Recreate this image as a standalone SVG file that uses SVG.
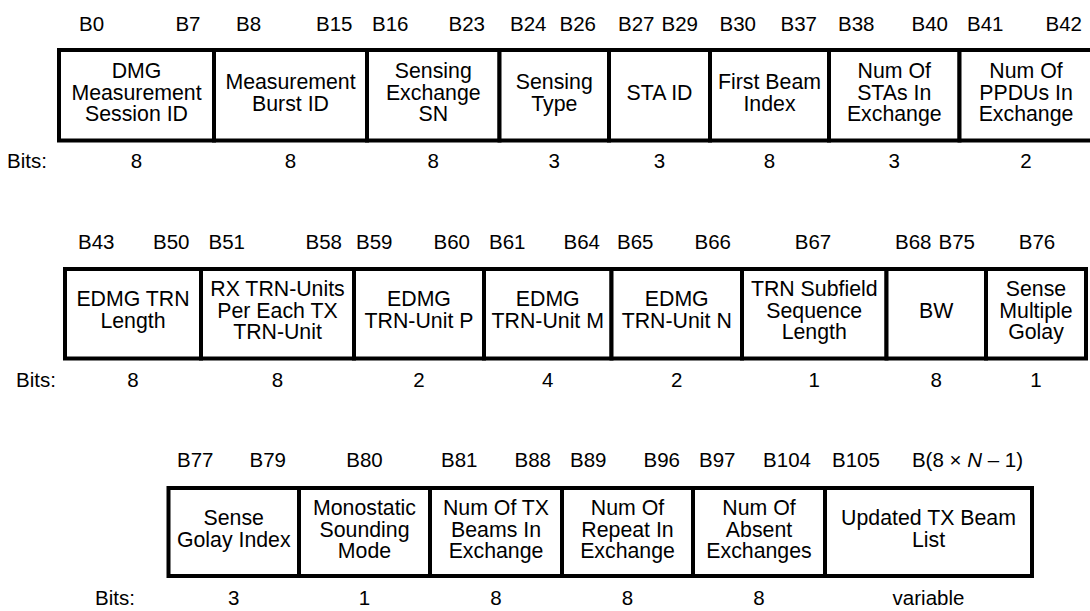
<svg xmlns="http://www.w3.org/2000/svg" width="1090" height="611" viewBox="0 0 1090 611">
<style>
text{font-family:"Liberation Sans",Arial,sans-serif;fill:#000}
.c{fill:#fff;stroke:#000;stroke-width:4}
.t{font-size:21.3px;text-anchor:middle}
.l{font-size:20.5px}
.m{text-anchor:middle}
.e{text-anchor:end}
.b{font-size:20.5px;text-anchor:middle}
</style>
<rect width="1090" height="611" fill="#fff"/>
<g id="connectors"/>
<!-- Row 1 -->
<g id="row1-labels" class="l">
<text x="79" y="30.5">B0</text><text x="200.5" y="30.5" class="e">B7</text>
<text x="236" y="30.5">B8</text><text x="352.5" y="30.5" class="e">B15</text>
<text x="372" y="30.5">B16</text><text x="485" y="30.5" class="e">B23</text>
<text x="510" y="30.5">B24</text><text x="596" y="30.5" class="e">B26</text>
<text x="618" y="30.5">B27</text><text x="698" y="30.5" class="e">B29</text>
<text x="719.5" y="30.5">B30</text><text x="817" y="30.5" class="e">B37</text>
<text x="838" y="30.5">B38</text><text x="948" y="30.5" class="e">B40</text>
<text x="967" y="30.5">B41</text><text x="1082" y="30.5" class="e">B42</text>
</g>
<g id="f-dmg-session"><rect class="c" x="59" y="50" width="155" height="90.5"/><text class="t" x="136.5" y="78">DMG</text><text class="t" x="136.5" y="99.5">Measurement</text><text class="t" x="136.5" y="121">Session ID</text></g>
<g id="f-burst-id"><rect class="c" x="214" y="50" width="153" height="90.5"/><text class="t" x="290.5" y="89">Measurement</text><text class="t" x="290.5" y="110.5">Burst ID</text></g>
<g id="f-exch-sn"><rect class="c" x="367" y="50" width="132.5" height="90.5"/><text class="t" x="433.25" y="78">Sensing</text><text class="t" x="433.25" y="99.5">Exchange</text><text class="t" x="433.25" y="121">SN</text></g>
<g id="f-sensing-type"><rect class="c" x="499.5" y="50" width="109.5" height="90.5"/><text class="t" x="554.25" y="89">Sensing</text><text class="t" x="554.25" y="110.5">Type</text></g>
<g id="f-sta-id"><rect class="c" x="609" y="50" width="101" height="90.5"/><text class="t" x="659.5" y="99.5">STA ID</text></g>
<g id="f-first-beam"><rect class="c" x="710" y="50" width="119" height="90.5"/><text class="t" x="769.5" y="89">First Beam</text><text class="t" x="769.5" y="110.5">Index</text></g>
<g id="f-num-stas"><rect class="c" x="829" y="50" width="130.5" height="90.5"/><text class="t" x="894.25" y="78">Num Of</text><text class="t" x="894.25" y="99.5">STAs In</text><text class="t" x="894.25" y="121">Exchange</text></g>
<g id="f-num-ppdus"><rect class="c" x="959.5" y="50" width="134.5" height="90.5"/><text class="t" x="1026" y="78">Num Of</text><text class="t" x="1026" y="99.5">PPDUs In</text><text class="t" x="1026" y="121">Exchange</text></g>
<g id="row1-bits" class="b">
<text x="7" y="168" style="text-anchor:start">Bits:</text>
<text x="136.5" y="168">8</text><text x="290.5" y="168">8</text><text x="433.25" y="168">8</text><text x="554.25" y="168">3</text><text x="659.5" y="168">3</text><text x="769.5" y="168">8</text><text x="894.25" y="168">3</text><text x="1026" y="168">2</text>
</g>
<!-- Row 2 -->
<g id="row2-labels" class="l">
<text x="78" y="248.5">B43</text><text x="189.5" y="248.5" class="e">B50</text>
<text x="208.5" y="248.5">B51</text><text x="342" y="248.5" class="e">B58</text>
<text x="356" y="248.5">B59</text><text x="470" y="248.5" class="e">B60</text>
<text x="489" y="248.5">B61</text><text x="600" y="248.5" class="e">B64</text>
<text x="617" y="248.5">B65</text><text x="731" y="248.5" class="e">B66</text>
<text x="813" y="248.5" class="m">B67</text>
<text x="895" y="248.5">B68</text><text x="975" y="248.5" class="e">B75</text>
<text x="1037" y="248.5" class="m">B76</text>
</g>
<g id="f-trn-length"><rect class="c" x="65" y="269" width="136" height="89.5"/><text class="t" x="133" y="306">EDMG TRN</text><text class="t" x="133" y="327.5">Length</text></g>
<g id="f-rx-trn-units"><rect class="c" x="201" y="269" width="153" height="89.5"/><text class="t" x="277.5" y="296">RX TRN-Units</text><text class="t" x="277.5" y="317.5">Per Each TX</text><text class="t" x="277.5" y="339">TRN-Unit</text></g>
<g id="f-trn-unit-p"><rect class="c" x="354" y="269" width="130" height="89.5"/><text class="t" x="419" y="306">EDMG</text><text class="t" x="419" y="327.5">TRN-Unit P</text></g>
<g id="f-trn-unit-m"><rect class="c" x="484" y="269" width="127.5" height="89.5"/><text class="t" x="547.75" y="306">EDMG</text><text class="t" x="547.75" y="327.5">TRN-Unit M</text></g>
<g id="f-trn-unit-n"><rect class="c" x="611.5" y="269" width="130.5" height="89.5"/><text class="t" x="676.75" y="306">EDMG</text><text class="t" x="676.75" y="327.5">TRN-Unit N</text></g>
<g id="f-trn-subfield"><rect class="c" x="742" y="269" width="144.5" height="89.5"/><text class="t" x="814.25" y="296">TRN Subfield</text><text class="t" x="814.25" y="317.5">Sequence</text><text class="t" x="814.25" y="339">Length</text></g>
<g id="f-bw"><rect class="c" x="886.5" y="269" width="99.5" height="89.5"/><text class="t" x="936.25" y="317.5">BW</text></g>
<g id="f-sense-multiple"><rect class="c" x="986" y="269" width="100" height="89.5"/><text class="t" x="1036" y="296">Sense</text><text class="t" x="1036" y="317.5">Multiple</text><text class="t" x="1036" y="339">Golay</text></g>
<g id="row2-bits" class="b">
<text x="16" y="387" style="text-anchor:start">Bits:</text>
<text x="133" y="387">8</text><text x="277.5" y="387">8</text><text x="419" y="387">2</text><text x="547.75" y="387">4</text><text x="676.75" y="387">2</text><text x="814.25" y="387">1</text><text x="936.25" y="387">8</text><text x="1036" y="387">1</text>
</g>
<!-- Row 3 -->
<g id="row3-labels" class="l">
<text x="177" y="467">B77</text><text x="286" y="467" class="e">B79</text>
<text x="364.5" y="467" class="m">B80</text>
<text x="441" y="467">B81</text><text x="551" y="467" class="e">B88</text>
<text x="570" y="467">B89</text><text x="680" y="467" class="e">B96</text>
<text x="699" y="467">B97</text><text x="811" y="467" class="e">B104</text>
<text x="832" y="467">B105</text><text x="1023" y="467" class="e">B(8 × <tspan font-style="italic">N</tspan> – 1)</text>
</g>
<g id="f-golay-index"><rect class="c" x="168.5" y="488" width="130.5" height="88"/><text class="t" x="233.75" y="525">Sense</text><text class="t" x="233.75" y="546.5">Golay Index</text></g>
<g id="f-monostatic"><rect class="c" x="299" y="488" width="131" height="88"/><text class="t" x="364.5" y="515">Monostatic</text><text class="t" x="364.5" y="536.5">Sounding</text><text class="t" x="364.5" y="557.5">Mode</text></g>
<g id="f-num-tx-beams"><rect class="c" x="430" y="488" width="132" height="88"/><text class="t" x="496" y="515">Num Of TX</text><text class="t" x="496" y="536.5">Beams In</text><text class="t" x="496" y="557.5">Exchange</text></g>
<g id="f-num-repeat"><rect class="c" x="562" y="488" width="131" height="88"/><text class="t" x="627.5" y="515">Num Of</text><text class="t" x="627.5" y="536.5">Repeat In</text><text class="t" x="627.5" y="557.5">Exchange</text></g>
<g id="f-num-absent"><rect class="c" x="693" y="488" width="132" height="88"/><text class="t" x="759" y="515">Num Of</text><text class="t" x="759" y="536.5">Absent</text><text class="t" x="759" y="557.5">Exchanges</text></g>
<g id="f-updated-beam-list"><rect class="c" x="825" y="488" width="207" height="88"/><text class="t" x="928.5" y="525">Updated TX Beam</text><text class="t" x="928.5" y="546.5">List</text></g>
<g id="row3-bits" class="b">
<text x="95" y="605" style="text-anchor:start">Bits:</text>
<text x="233.75" y="605">3</text><text x="364.5" y="605">1</text><text x="496" y="605">8</text><text x="627.5" y="605">8</text><text x="759" y="605">8</text><text x="928.5" y="605">variable</text>
</g>
</svg>
